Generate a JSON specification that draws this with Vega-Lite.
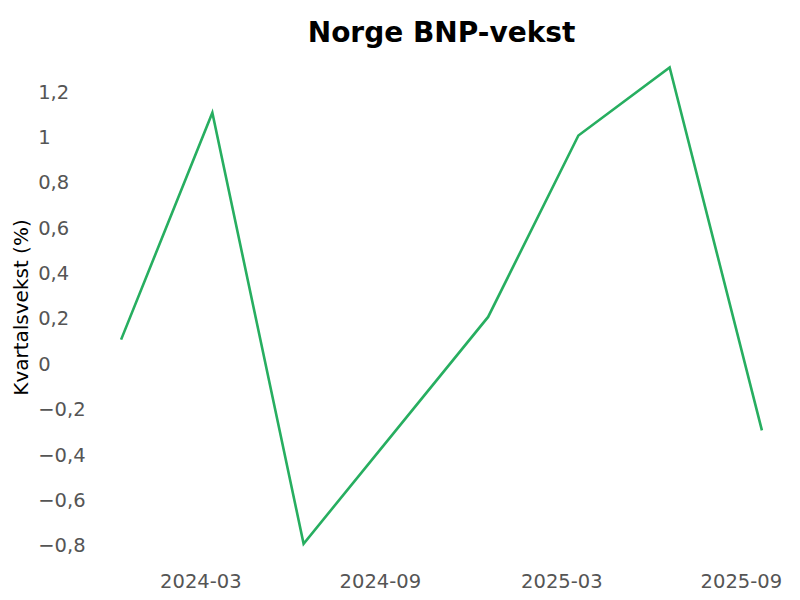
{
  "$schema": "https://vega.github.io/schema/vega-lite/v6.json",
  "width": 705,
  "height": 523,
  "autosize": {"type": "none"},
  "padding": {"left": 89, "top": 45, "right": 6, "bottom": 32},
  "background": "white",
  "title": {
    "text": "Norge BNP-vekst",
    "font": "DejaVu Sans",
    "fontSize": 28,
    "fontWeight": "bold",
    "color": "black",
    "anchor": "middle",
    "offset": -3
  },
  "config": {
    "view": {"stroke": null},
    "axis": {
      "domain": false,
      "grid": false,
      "ticks": false,
      "tickSize": 0,
      "labelFont": "DejaVu Sans",
      "labelFontSize": 19.5,
      "labelColor": "#555555",
      "titleFont": "DejaVu Sans",
      "titleFontSize": 20,
      "titleFontWeight": "normal",
      "titleColor": "black",
      "labelOverlap": false,
      "labelFlush": false,
      "labelBound": false
    }
  },
  "data": {
    "values": [
      {"kvartal": "2023-12-31", "vekst": 0.1},
      {"kvartal": "2024-03-31", "vekst": 1.1},
      {"kvartal": "2024-06-30", "vekst": -0.8},
      {"kvartal": "2024-09-30", "vekst": -0.3},
      {"kvartal": "2024-12-31", "vekst": 0.2},
      {"kvartal": "2025-03-31", "vekst": 1.0},
      {"kvartal": "2025-06-30", "vekst": 1.3},
      {"kvartal": "2025-09-30", "vekst": -0.3}
    ]
  },
  "mark": {"type": "line", "color": "#27ae60", "strokeWidth": 2.6},
  "encoding": {
    "x": {
      "field": "kvartal",
      "type": "temporal",
      "scale": {
        "type": "utc",
        "domain": [
          {"year": 2023, "month": 11, "date": 29, "utc": true},
          {"year": 2025, "month": 11, "date": 1, "utc": true}
        ]
      },
      "axis": {
        "title": null,
        "labelExpr": "utcFormat(datum.value, '%Y-%m')",
        "labelPadding": 4,
        "values": [
          {"year": 2024, "month": 3, "date": 19, "utc": true},
          {"year": 2024, "month": 9, "date": 14, "utc": true},
          {"year": 2025, "month": 3, "date": 14, "utc": true},
          {"year": 2025, "month": 9, "date": 9, "utc": true}
        ]
      }
    },
    "y": {
      "field": "vekst",
      "type": "quantitative",
      "scale": {"domain": [-0.907, 1.399], "nice": false, "zero": false},
      "axis": {
        "title": "Kvartalsvekst (%)",
        "values": [-0.8, -0.6, -0.4, -0.2, 0, 0.2, 0.4, 0.6, 0.8, 1, 1.2],
        "labelExpr": "replace(format(datum.value, '.1~f'), '.', ',')",
        "labelAlign": "left",
        "labelPadding": 51.3,
        "labelOffset": 2,
        "titleX": -68,
        "titleY": 262,
        "titleAlign": "center",
        "titleBaseline": "middle",
        "titleAngle": 270
      }
    }
  }
}
